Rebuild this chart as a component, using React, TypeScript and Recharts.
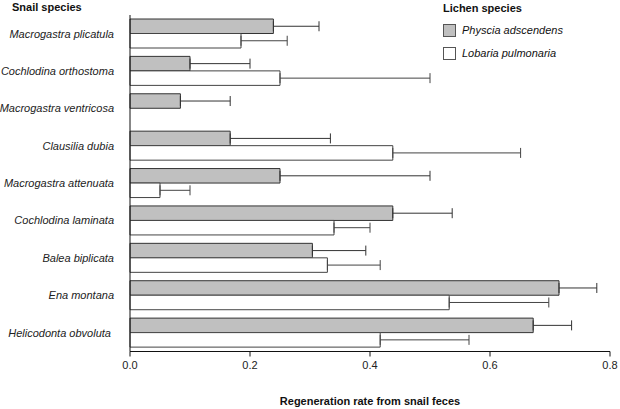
import { BarChart, Bar, XAxis, YAxis, ErrorBar, Legend } from "recharts";

const species = [
  "Macrogastra plicatula",
  "Cochlodina orthostoma",
  "Macrogastra ventricosa",
  "Clausilia dubia",
  "Macrogastra attenuata",
  "Cochlodina laminata",
  "Balea biplicata",
  "Ena montana",
  "Helicodonta obvoluta ",
];
const physcia = [0.239, 0.1, 0.084, 0.167, 0.25, 0.438, 0.304, 0.715, 0.672];
const physciaSE = [0.076, 0.1, 0.083, 0.167, 0.25, 0.099, 0.089, 0.063, 0.064];
const lobaria = [0.185, 0.25, 0, 0.438, 0.05, 0.34, 0.329, 0.532, 0.417];
const lobariaSE = [0.077, 0.25, 0, 0.213, 0.05, 0.06, 0.088, 0.166, 0.148];
const xTicks = [0, 0.2, 0.4, 0.6, 0.8];

const data = species.map((name, i) => ({
  name,
  physcia: physcia[i],
  physciaErr: [0, physciaSE[i]],
  lobaria: lobaria[i],
  lobariaErr: [0, lobariaSE[i]],
}));

const font = "'Liberation Sans', Arial, sans-serif";

function SpeciesTick(props: any) {
  const { x, y, payload } = props;
  return (
    <text
      x={x}
      y={y}
      dy="0.35em"
      textAnchor="end"
      fill="#222"
      fontSize={11}
      fontStyle="italic"
      fontFamily={font}
      style={{ whiteSpace: "pre" }}
    >
      {payload.value}
    </text>
  );
}

function LichenLegend() {
  const items = [
    { label: "Physcia adscendens", fill: "#c0c0c0" },
    { label: "Lobaria pulmonaria", fill: "#ffffff" },
  ];
  return (
    <div style={{ fontFamily: font, color: "#111" }}>
      <div style={{ fontWeight: "bold", fontSize: 11, lineHeight: "14px" }}>Lichen species</div>
      {items.map((it, i) => (
        <div key={i} style={{ display: "flex", alignItems: "center", marginTop: i === 0 ? 8 : 9 }}>
          <span
            style={{
              width: 13,
              height: 13,
              background: it.fill,
              border: "1px solid #555",
              boxSizing: "border-box",
              display: "inline-block",
              marginRight: 6,
            }}
          />
          <span style={{ fontStyle: "italic", fontSize: 11, lineHeight: "14px" }}>{it.label}</span>
        </div>
      ))}
    </div>
  );
}

export default function App() {
  return (
    <div style={{ position: "absolute", left: 0, top: 0, width: 620, height: 409, background: "#fff" }}>
      <div
        style={{
          position: "absolute",
          left: 12,
          top: 0,
          fontFamily: font,
          fontWeight: "bold",
          fontSize: 11,
          lineHeight: "14px",
          color: "#111",
        }}
      >
        Snail species
      </div>
      <BarChart
        width={620}
        height={409}
        data={data}
        layout="vertical"
        margin={{ top: 15, right: 10, bottom: 0, left: 0 }}
        barGap={0}
        barSize={14.5}
      >
        <XAxis
          type="number"
          domain={[0, 0.8]}
          ticks={xTicks}
          tickFormatter={(v: number) => v.toFixed(1)}
          height={57.5}
          tickSize={5}
          tickMargin={5}
          stroke="#111"
          tick={{ fill: "#222", fontSize: 11, fontFamily: font }}
          label={{
            value: "Regeneration rate from snail feces",
            position: "insideBottom",
            offset: 4,
            style: { fontFamily: font, fontWeight: "bold", fontSize: 11, fill: "#111" },
          }}
        />
        <YAxis
          type="category"
          dataKey="name"
          width={130}
          tickLine={false}
          tickSize={0}
          tickMargin={16}
          stroke="#111"
          interval={0}
          tick={<SpeciesTick />}
        />
        <Legend
          layout="vertical"
          align="center"
          verticalAlign="middle"
          wrapperStyle={{ top: 1, left: 443, width: 170 }}
          content={() => <LichenLegend />}
        />
        <Bar dataKey="physcia" fill="#c0c0c0" stroke="#333" strokeWidth={1} isAnimationActive={false}>
          <ErrorBar dataKey="physciaErr" direction="x" width={5} stroke="#333" strokeWidth={1} />
        </Bar>
        <Bar dataKey="lobaria" fill="#ffffff" stroke="#444" strokeWidth={1} isAnimationActive={false}>
          <ErrorBar dataKey="lobariaErr" direction="x" width={5} stroke="#444" strokeWidth={1} />
        </Bar>
      </BarChart>
    </div>
  );
}
